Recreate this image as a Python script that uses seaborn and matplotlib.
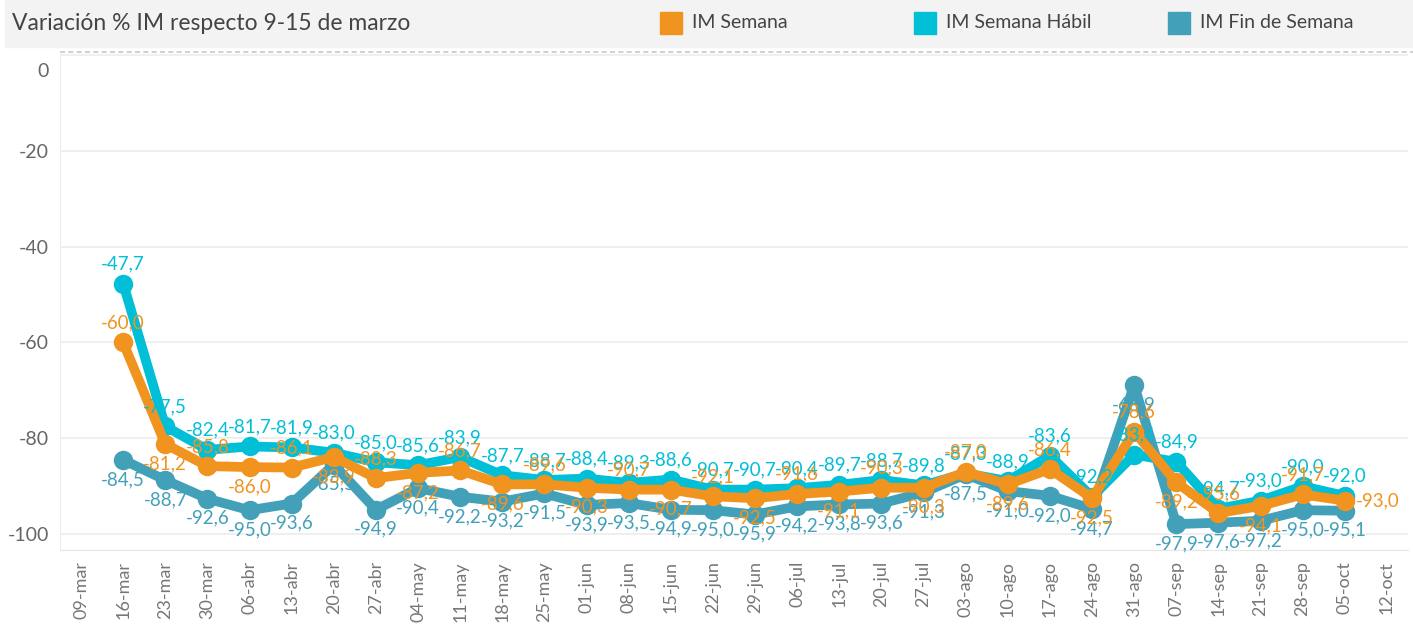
import pandas as pd
import numpy as np
import matplotlib
matplotlib.use('Agg')
import matplotlib.pyplot as plt
import seaborn as sns

semanas = ['09-mar', '16-mar', '23-mar', '30-mar', '06-abr', '13-abr', '20-abr', '27-abr',
           '04-may', '11-may', '18-may', '25-may', '01-jun', '08-jun', '15-jun', '22-jun',
           '29-jun', '06-jul', '13-jul', '20-jul', '27-jul', '03-ago', '10-ago', '17-ago',
           '24-ago', '31-ago', '07-sep', '14-sep', '21-sep', '28-sep', '05-oct', '12-oct']

# semanas con dato: de 16-mar a 05-oct
semanas_dato = semanas[1:31]

im_semana = [-60.0, -81.2, -85.8, -86.0, -86.1, -83.9, -88.3, -87.2, -86.7, -89.6,
             -89.6, -90.3, -90.7, -90.7, -92.1, -92.5, -91.6, -91.1, -90.3, -90.3,
             -87.0, -89.6, -86.4, -92.5, -78.6, -89.2, -95.6, -94.1, -91.7, -93.0]

im_habil = [-47.7, -77.5, -82.4, -81.7, -81.9, -83.0, -85.0, -85.6, -83.9, -87.7,
            -88.7, -88.4, -89.3, -88.6, -90.7, -90.7, -90.4, -89.7, -88.7, -89.8,
            -87.3, -88.9, -83.6, -92.2, -83.4, -84.9, -94.7, -93.0, -90.0, -92.0]

im_finde = [-84.5, -88.7, -92.6, -95.0, -93.6, -85.5, -94.9, -90.4, -92.2, -93.2,
            -91.5, -93.9, -93.5, -94.9, -95.0, -95.9, -94.2, -93.8, -93.6, -91.3,
            -87.5, -91.0, -92.0, -94.7, -68.9, -97.9, -97.6, -97.2, -95.0, -95.1]

yticks = [0, -20, -40, -60, -80, -100]

series = ['IM Semana', 'IM Semana Hábil', 'IM Fin de Semana']
colores = {'IM Semana': '#f1931f', 'IM Semana Hábil': '#00bfd6', 'IM Fin de Semana': '#42a0b9'}

valores = {'IM Semana': im_semana, 'IM Semana Hábil': im_habil, 'IM Fin de Semana': im_finde}
pos = {s: i for i, s in enumerate(semanas)}

df = pd.concat([pd.DataFrame({'semana': semanas_dato,
                              'x': [pos[s] for s in semanas_dato],
                              'valor': valores[k],
                              'serie': k}) for k in series], ignore_index=True)

sns.set_style('white')
plt.rcParams['font.family'] = ['Lato', 'DejaVu Sans']

fig = plt.figure(figsize=(14.13, 6.28), dpi=100)
ax = fig.add_axes([60 / 1413, 1 - 550 / 628, 1348 / 1413, 496 / 628])

# cabecera gris
fig.patches.append(plt.Rectangle((5 / 1413, 1 - 47 / 628), 1, 47 / 628, transform=fig.transFigure,
                                 color='#f3f3f3', zorder=0))
fig.lines.append(plt.Line2D([60 / 1413, 1], [1 - 52 / 628] * 2, transform=fig.transFigure,
                            color='#c8c8c8', lw=1.2, ls=(0, (3, 2))))
fig.text(12 / 1413, 1 - 23 / 628, 'Variación % IM respecto 9-15 de marzo', fontsize=16.5,
         color='#444444', va='center', ha='left')
leg_x = {'IM Semana': 660, 'IM Semana Hábil': 914, 'IM Fin de Semana': 1168}
for k in series:
    fig.patches.append(plt.Rectangle((leg_x[k] / 1413, 1 - 34 / 628), 22 / 1413, 22 / 628,
                                     transform=fig.transFigure, color=colores[k]))
    fig.text((leg_x[k] + 32) / 1413, 1 - 23 / 628, k, fontsize=14, color='#444444',
             va='center', ha='left')

orden_z = {'IM Semana Hábil': 3, 'IM Fin de Semana': 4, 'IM Semana': 5}
for k in ['IM Semana Hábil', 'IM Fin de Semana', 'IM Semana']:
    d = df[df['serie'] == k]
    sns.lineplot(data=d, x='x', y='valor', color=colores[k], lw=7, marker='o',
                 markersize=14, markeredgewidth=0, ax=ax, zorder=orden_z[k])

# etiquetas de valor
def fmt(v):
    return f'{v:.1f}'.replace('.', ',')

fs = 13.5
for i, s in enumerate(semanas_dato):
    x = pos[s]
    ax.annotate(fmt(im_habil[i]), (x, im_habil[i]), xytext=(0, 8), textcoords='offset points',
                ha='center', va='bottom', fontsize=fs, color=colores['IM Semana Hábil'], zorder=6)
    ax.annotate(fmt(im_finde[i]), (x, im_finde[i]), xytext=(0, -8), textcoords='offset points',
                ha='center', va='top', fontsize=fs, color=colores['IM Fin de Semana'], zorder=6)
    if i == len(semanas_dato) - 1:
        ax.annotate(fmt(im_semana[i]), (x, im_semana[i]), xytext=(8, 0), textcoords='offset points',
                    ha='left', va='center', fontsize=fs, color=colores['IM Semana'], zorder=6)
    elif i % 2 == 0 or im_semana[i] > im_habil[i]:
        ax.annotate(fmt(im_semana[i]), (x, im_semana[i]), xytext=(0, 8), textcoords='offset points',
                    ha='center', va='bottom', fontsize=fs, color=colores['IM Semana'], zorder=6)
    else:
        ax.annotate(fmt(im_semana[i]), (x, im_semana[i]), xytext=(0, -8), textcoords='offset points',
                    ha='center', va='top', fontsize=fs, color=colores['IM Semana'], zorder=6)

ax.set_xlim(-0.5, len(semanas) - 0.5)
ax.set_ylim(-103.3, 0.2)
ax.set_xticks(range(len(semanas)))
ax.set_xticklabels(semanas, rotation=90, fontsize=13, color='#777777')
ax.set_yticks(yticks)
# el "0" va algo por debajo de su línea, como en el original
ax.set_yticklabels(['' if v == 0 else str(v) for v in yticks], fontsize=14, color='#666666')
ax.annotate('0', xy=(0, 0), xycoords=('axes fraction', 'data'), xytext=(-8, -12),
            textcoords='offset points', ha='right', va='center', fontsize=14, color='#666666',
            annotation_clip=False)
ax.tick_params(axis='both', length=0, pad=8)
ax.grid(axis='y', color='#ececec', lw=1.2)
ax.set_axisbelow(True)
for sp in ['top', 'right']:
    ax.spines[sp].set_visible(False)
ax.spines['left'].set_color('#eeeeee')
ax.spines['bottom'].set_color('#e6e6e6')
ax.set(xlabel='', ylabel='')

plt.savefig('out.png', dpi=100)
